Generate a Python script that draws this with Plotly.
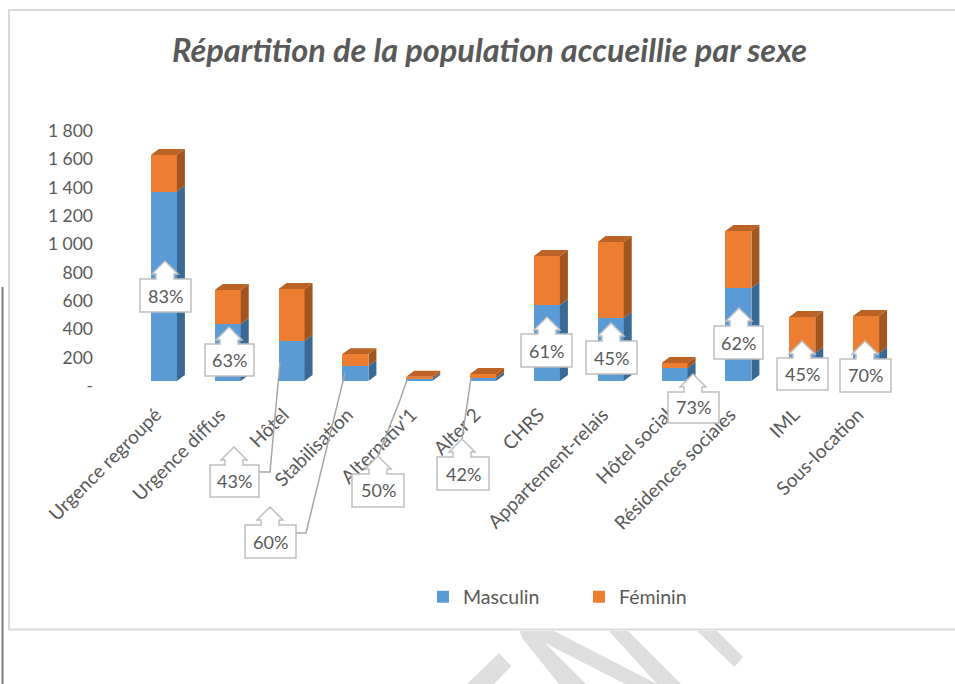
import plotly.graph_objects as go

categories = ["Urgence regroupé", "Urgence diffus", "Hôtel", "Stabilisation", "Alternativ'1", "Alter 2",
              "CHRS", "Appartement-relais", "Hôtel social", "Résidences sociales", "IML", "Sous-location"]
masculin = [1337, 402, 282, 106, 15, 21, 536, 445, 92, 656, 198, 198]
feminin = [258, 240, 367, 84, 15, 29, 346, 536, 35, 403, 254, 261]
pct_labels = ["83%", "63%", "43%", "60%", "50%", "42%", "61%", "45%", "73%", "62%", "45%", "70%"]
y_ticks = [0, 200, 400, 600, 800, 1000, 1200, 1400, 1600, 1800]
y_tick_labels = ["-", "200", "400", "600", "800", "1 000", "1 200", "1 400", "1 600", "1 800"]

W, H = 955, 684
BLUE, ORANGE = "#5B9BD5", "#ED7D31"
BLUE_SIDE, ORANGE_SIDE, ORANGE_TOP = "#3A6A94", "#A2561F", "#BC6225"
TXT = "#595959"
FONT = "Lato, 'Open Sans', sans-serif"
BAR_W, DX, DY = 0.4075, 0.125, 42


def fx(x):
    return x / W


def fy(y):
    return 1 - y / H


def path(points, close=True):
    s = "M" + " L".join(f"{fx(x):.5f},{fy(y):.5f}" for x, y in points)
    return s + (" Z" if close else "")


xs = list(range(len(categories)))
fig = go.Figure()
fig.add_bar(x=xs, y=masculin, name="Masculin", marker=dict(color=BLUE, line_width=0), width=BAR_W)
fig.add_bar(x=xs, y=feminin, name="Féminin", marker=dict(color=ORANGE, line_width=0), width=BAR_W)


def side_face(lows, highs):
    px, py = [], []
    for i, lo, hi in zip(xs, lows, highs):
        r = i + BAR_W / 2
        px += [r, r + DX, r + DX, r, r, None]
        py += [lo, lo + DY, hi + DY, hi, lo, None]
    return px, py


totals = [m + f for m, f in zip(masculin, feminin)]
for lows, highs, col in [([0] * len(xs), masculin, BLUE_SIDE), (masculin, totals, ORANGE_SIDE)]:
    px, py = side_face(lows, highs)
    fig.add_scatter(x=px, y=py, mode="lines", fill="toself", fillcolor=col, line=dict(width=0, color=col),
                    showlegend=False, hoverinfo="skip")
px, py = [], []
for i, t in zip(xs, totals):
    l, r = i - BAR_W / 2, i + BAR_W / 2
    px += [l, r, r + DX, l + DX, l, None]
    py += [t, t, t + DY, t + DY, t, None]
fig.add_scatter(x=px, y=py, mode="lines", fill="toself", fillcolor=ORANGE_TOP, line=dict(width=0, color=ORANGE_TOP),
                showlegend=False, hoverinfo="skip")

# callout geometry, pixels: box left, right, top, bottom, arrow tip x, tip y
callouts = [
    (140, 191, 279, 312, 165, 261), (205, 254, 344, 376, 229, 327), (210, 259, 465, 497, 234, 447),
    (245, 296, 525, 558, 270, 507), (352, 404, 474, 507, 378, 456), (437, 489, 457, 490, 462, 439),
    (521, 572, 334, 367, 547, 317), (586, 637, 341, 374, 611, 323), (668, 719, 392, 423, 693, 374),
    (714, 763, 326, 359, 739, 308), (777, 828, 358, 390, 802, 341), (840, 891, 359, 392, 865, 341),
]
leaders = [
    [(259, 472), (270, 472), (280, 362)],
    [(296, 533), (306, 533), (345, 373)],
    [(378, 456), (400, 400), (407, 380)],
    [(462, 439), (471, 378)],
]
GREY = "#BFBFBF"
shapes = []
# chart frame and stray rule
shapes.append(dict(type="path", path=path([(9, 630), (9, 10), (956, 10)], False), xref="paper", yref="paper",
                   line=dict(color="#D9D9D9", width=2), layer="below"))
shapes.append(dict(type="line", xref="paper", yref="paper", x0=fx(9), x1=fx(956), y0=fy(629.5), y1=fy(629.5),
                   line=dict(color="#D9D9D9", width=2), layer="below"))
shapes.append(dict(type="line", xref="paper", yref="paper", x0=fx(2.5), x1=fx(2.5), y0=fy(287), y1=fy(684),
                   line=dict(color="#7F7F7F", width=2), layer="below"))
# watermark fragments below the frame
for poly in [
    [(499, 653), (511.5, 666), (494, 684), (467, 684)],
    [(519.5, 631), (522, 638), (559, 684), (586, 684), (545, 643), (625, 684), (657, 684), (554, 631)],
    [(609, 631), (628, 631), (681, 684), (657, 684)],
    [(697, 631), (717, 631), (743, 657), (734.5, 667)],
]:
    shapes.append(dict(type="path", path=path(poly), xref="paper", yref="paper",
                       fillcolor="#DEDEDE", line=dict(width=0), layer="below"))
for pts in leaders:
    shapes.append(dict(type="path", path=path(pts, False), xref="paper", yref="paper",
                       line=dict(color="#A6A6A6", width=1.5), layer="above"))
annotations = []
for (l, r, t, b, tx, ty), lab in zip(callouts, pct_labels):
    shaft, head, neck = 9, 13, ty + 13
    pts = [(l, t), (tx - shaft, t), (tx - shaft, neck), (tx - head, neck), (tx, ty), (tx + head, neck),
           (tx + shaft, neck), (tx + shaft, t), (r, t), (r, b), (l, b)]
    shapes.append(dict(type="path", path=path(pts), xref="paper", yref="paper", fillcolor="white",
                       line=dict(color=GREY, width=1.5), layer="above"))
    annotations.append(dict(text=lab, x=fx((l + r) / 2), y=fy((t + b) / 2), xref="paper", yref="paper",
                            showarrow=False, font=dict(family=FONT, size=18, color=TXT),
                            xanchor="center", yanchor="middle"))
annotations.append(dict(text="<b><i>Répartition de la population accueillie par sexe</i></b>", x=fx(489), y=fy(50),
                        xref="paper", yref="paper", showarrow=False, xanchor="center", yanchor="middle",
                        font=dict(family=FONT, size=32.5, color=TXT)))

fig.update_layout(
    width=W, height=H, margin=dict(l=0, r=0, t=0, b=0), paper_bgcolor="white", plot_bgcolor="rgba(0,0,0,0)",
    barmode="stack", showlegend=True, shapes=shapes, annotations=annotations,
    font=dict(family=FONT, color=TXT, size=17),
    legend=dict(orientation="h", x=fx(423), y=fy(597), xanchor="left", yanchor="middle", entrywidth=111,
                entrywidthmode="pixels", font=dict(family=FONT, size=19.5, color=TXT), bgcolor="rgba(0,0,0,0)",
                traceorder="normal"),
    xaxis=dict(domain=[fx(132), fx(898)], range=[-0.5, 11.5], tickmode="array", tickvals=xs, ticktext=categories,
               tickangle=-45, showgrid=False, zeroline=False, showline=False, ticks="", ticklabelstandoff=18,
               ticklabelshift=-8, tickfont=dict(family=FONT, size=19, color=TXT), automargin=False),
    yaxis=dict(domain=[fy(381), fy(126)], range=[0, 1800], tickmode="array", tickvals=y_ticks,
               ticktext=y_tick_labels, showgrid=False, zeroline=False, showline=False, ticks="",
               ticklabelstandoff=38, ticklabelshift=5, tickfont=dict(family=FONT, size=17.5, color=TXT),
               automargin=False),
)
fig.write_html("out.html", config=dict(displayModeBar=False), post_script="document.body.style.margin='0';")
